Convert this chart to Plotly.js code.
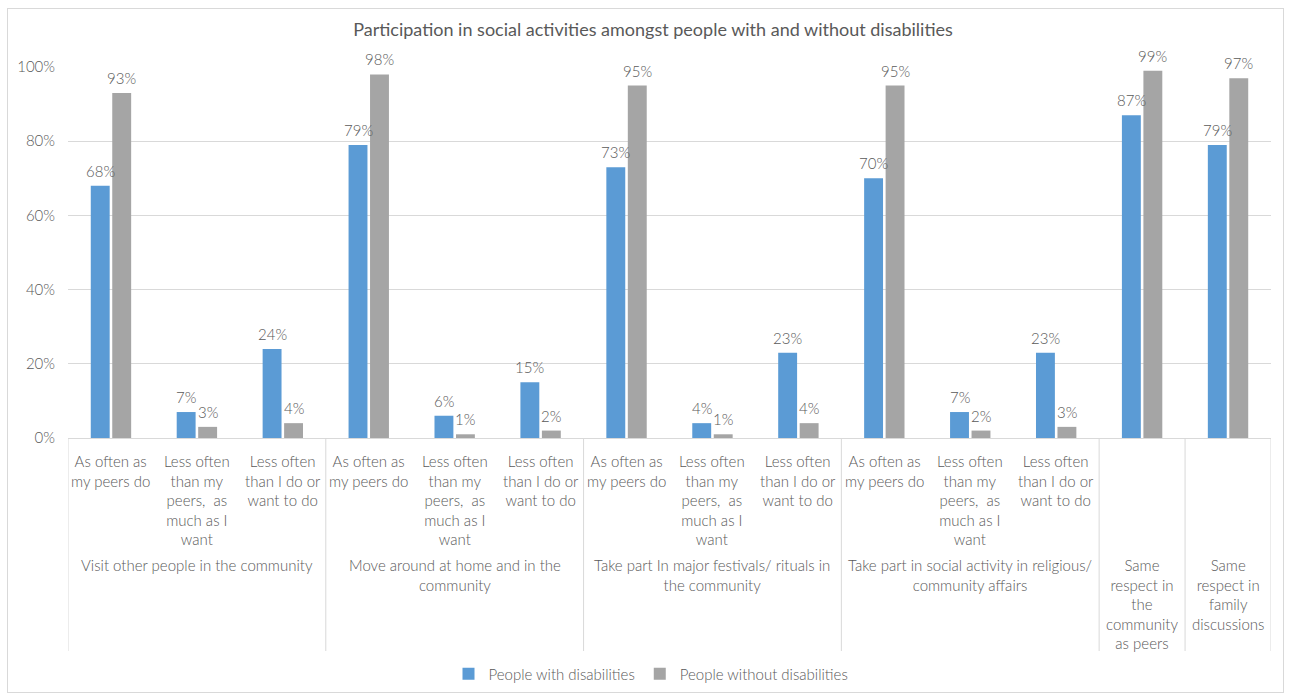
<!DOCTYPE html>
<html>
<head>
<meta charset="utf-8">
<script src="https://cdn.plot.ly/plotly-3.0.1.min.js"></script>
<style>
html,body{margin:0;padding:0;background:#fff;}
#wrap{position:relative;width:1289px;height:697px;}
#chart{position:absolute;left:0;top:0;width:1289px;height:697px;}
#frame{position:absolute;left:7px;top:8px;width:1275px;height:683px;border:1px solid #d9d9d9;pointer-events:none;}
</style>
</head>
<body>
<div id="wrap"><div id="chart"></div><div id="frame"></div></div>
<script>
const subLabels = [
  "As often as<br>my peers do", "Less often<br>than my<br>peers,  as<br>much as I<br>want", "Less often<br>than I do or<br>want to do",
  "As often as<br>my peers do", "Less often<br>than my<br>peers,  as<br>much as I<br>want", "Less often<br>than I do or<br>want to do",
  "As often as<br>my peers do", "Less often<br>than my<br>peers,  as<br>much as I<br>want", "Less often<br>than I do or<br>want to do",
  "As often as<br>my peers do", "Less often<br>than my<br>peers,  as<br>much as I<br>want", "Less often<br>than I do or<br>want to do",
  "", ""
];
const groupLabels = [
  "Visit other people in the community",
  "Move around at home and in the<br>community",
  "Take part In major festivals/ rituals in<br>the community",
  "Take part in social activity in religious/<br>community affairs",
  "Same<br>respect in<br>the<br>community<br>as peers",
  "Same<br>respect in<br>family<br>discussions"
];
const groupCenters = [1, 4, 7, 10, 12, 13];
const groupDividers = [-0.5, 2.5, 5.5, 8.5, 11.5, 12.5, 13.5];
const withDis = [68, 7, 24, 79, 6, 15, 73, 4, 23, 70, 7, 23, 87, 79];
const withoutDis = [93, 3, 4, 98, 1, 2, 95, 1, 4, 95, 2, 3, 99, 97];
const seriesNames = ["People with disabilities", "People without disabilities"];

const xs = withDis.map((_, i) => i);
const FONT = "Lato, 'Open Sans', sans-serif";
const GREY = "#595959";
const FS = 15;
const LF = {family:FONT,size:FS,color:GREY,weight:300};

const traces = [
  {type:"bar", x:xs, y:withDis.map(v=>v/100), name:seriesNames[0],
   marker:{color:"#5b9bd5"}, hoverinfo:"y"},
  {type:"bar", x:xs, y:withoutDis.map(v=>v/100), name:seriesNames[1],
   marker:{color:"#a5a5a5"}, hoverinfo:"y"}
];

const plotH = 438 - 67;
const py = p => (438 - p) / plotH;

const annotations = [];
// data labels
const catPx = (1271 - 68) / 14;
const off = catPx * 0.5 / 4;
[withDis, withoutDis].forEach((arr, s) => {
  arr.forEach((v, i) => {
    annotations.push({x:i, xref:"x", y:v/100, yref:"y", yanchor:"bottom", xanchor:"center",
      xshift:(s === 0 ? -off : off), yshift:4, text:v+"%", showarrow:false, font:LF});
  });
});
subLabels.forEach((t, i) => {
  if (!t) return;
  annotations.push({x:i, xref:"x", y:py(450), yref:"paper", yanchor:"top", xanchor:"center",
    text:t, showarrow:false, align:"center", font:LF});
});
groupLabels.forEach((t, i) => {
  annotations.push({x:groupCenters[i], xref:"x", y:py(554), yref:"paper", yanchor:"top", xanchor:"center",
    text:t, showarrow:false, align:"center", font:LF});
});

const shapes = groupDividers.map(x => ({type:"line", xref:"x", yref:"paper", x0:x, x1:x, y0:0, y1:py(651),
  line:{color:"#d9d9d9", width:1}}));

const layout = {
  width:1289, height:697,
  margin:{l:68, r:18, t:67, b:259},
  paper_bgcolor:"rgba(0,0,0,0)", plot_bgcolor:"#fff",
  title:{text:"Participation in social activities amongst people with and without disabilities",
    x:653/1289, xref:"container", xanchor:"center", y:1-30/697, yref:"container", yanchor:"middle",
    font:{family:FONT,size:18,color:"#595959"}},
  barmode:"group", bargap:0.5, bargroupgap:0.12,
  xaxis:{range:[-0.5,13.5], showticklabels:false, showgrid:false, zeroline:false,
    showline:true, linecolor:"#d9d9d9", linewidth:1, ticks:"", fixedrange:true},
  yaxis:{range:[0,1], tickvals:[0,0.2,0.4,0.6,0.8,1], ticktext:["0%","20%","40%","60%","80%","100%"],
    showgrid:true, gridcolor:"#d9d9d9", gridwidth:1, zeroline:false, showline:false, ticks:"",
    tickfont:LF, ticklabelstandoff:12, fixedrange:true},
  showlegend:true,
  legend:{orientation:"h", x:651/1289, xref:"container", xanchor:"center", y:1-674/697, yref:"container", yanchor:"middle",
    font:LF, itemwidth:30, traceorder:"normal"},
  annotations:annotations, shapes:shapes,
  font:{family:FONT,color:GREY}
};

Plotly.newPlot("chart", traces, layout, {displayModeBar:false, staticPlot:true});
</script>
</body>
</html>
